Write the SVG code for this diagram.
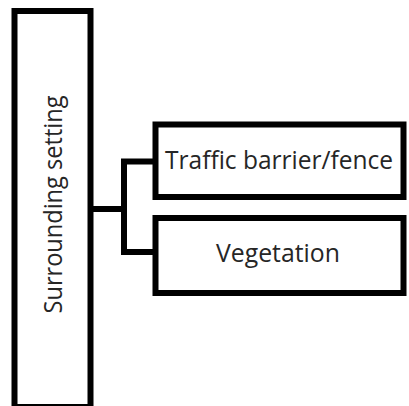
<svg xmlns="http://www.w3.org/2000/svg" width="409" height="406" viewBox="0 0 409 406">
  <style>
    .box { fill: #ffffff; stroke: #000000; stroke-width: 6; }
    .wire { fill: none; stroke: #000000; stroke-width: 6; stroke-linejoin: miter; stroke-linecap: square; }
    .label { font-family: "Open Sans", "Noto Sans", "Liberation Sans", sans-serif; font-size: 25px; fill: #262626; }
  </style>
  <rect width="409" height="406" fill="#ffffff"/>

  <!-- connectors: root bracket to the two child items -->
  <g id="connectors">
    <path class="wire" d="M 94 209 H 124"/>
    <path class="wire" d="M 153 161.5 H 124 V 252 H 153"/>
  </g>

  <!-- root: tall vertical box -->
  <g id="surrounding-setting">
    <rect class="box" x="14.5" y="11" width="76" height="396"/>
    <text class="label" transform="translate(62 204.5) rotate(-90)" text-anchor="middle" textLength="218" lengthAdjust="spacingAndGlyphs">Surrounding setting</text>
  </g>

  <g id="traffic-barrier">
    <rect class="box" x="155.5" y="124.5" width="248" height="72.5"/>
    <text class="label" x="279" y="169" text-anchor="middle" textLength="228" lengthAdjust="spacingAndGlyphs">Traffic barrier/fence</text>
  </g>

  <g id="vegetation">
    <rect class="box" x="155.5" y="218" width="248" height="75"/>
    <text class="label" x="278" y="262" text-anchor="middle" textLength="124" lengthAdjust="spacingAndGlyphs">Vegetation</text>
  </g>
</svg>
